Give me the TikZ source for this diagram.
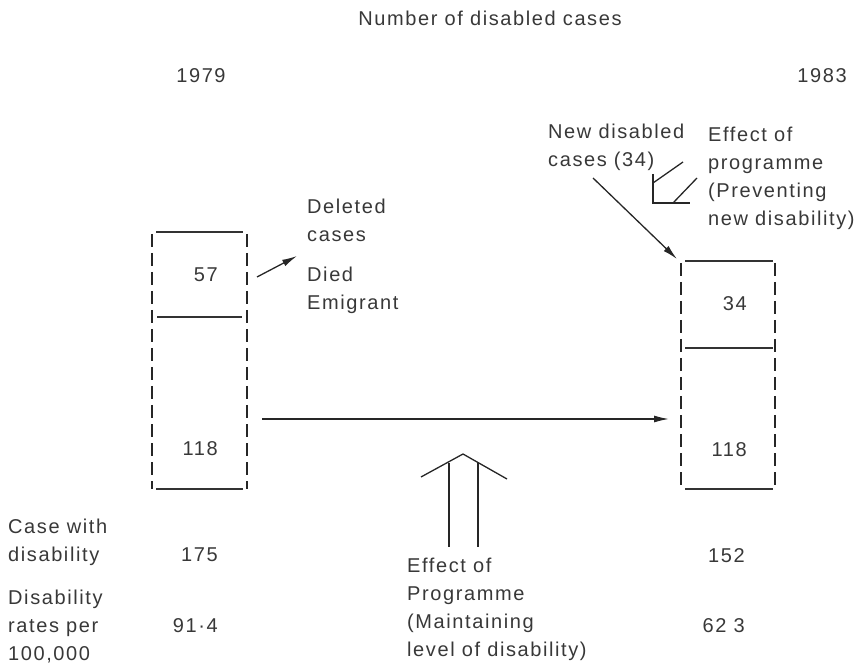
\documentclass[tikz,border=0pt]{standalone}
\usepackage{fontspec}
\setmainfont{Liberation Sans}[LetterSpace=8]
\usetikzlibrary{arrows.meta}
\begin{document}
\begin{tikzpicture}[x=1pt,y=-1pt,
  txt/.style={font=\fontsize{20}{28}\selectfont, text=black!78, inner sep=0pt, align=left, anchor=base west},
  num/.style={font=\fontsize{20}{28}\selectfont, text=black!78, inner sep=0pt, anchor=base east},
  dashside/.style={line width=2.8pt, draw=black!85, dash pattern=on 13pt off 6pt},
  hline/.style={line width=1.4pt, draw=black!80},
  arr/.style={line width=1.3pt, draw=black!85, -{Latex[length=15pt,width=7pt]}},
  sym/.style={line width=1.3pt, draw=black!85}
]
\useasboundingbox (0,0) rectangle (868,668);

% titles
\node[txt, anchor=base] (title) at (490,26) {Number of disabled cases};
\node[txt, anchor=base] (y79) at (201,83) {1979};
\node[txt, anchor=base] (y83) at (822,83) {1983};

% left box (1979)
\draw[dashside] (152,234) -- (152,489);
\draw[dashside] (247,234) -- (247,489);
\draw[hline] (156,232) -- (243,232);
\draw[hline] (157,317) -- (242,317);
\draw[hline] (156,489) -- (243,489);
\node[num] (n57) at (218,282) {57};
\node[num] (n118a) at (218,455) {118};

% right box (1983)
\draw[dashside] (681,263) -- (681,489);
\draw[dashside] (775,263) -- (775,489);
\draw[hline] (685,261) -- (773,261);
\draw[hline] (685,348) -- (773,348);
\draw[hline] (685,489) -- (773,489);
\node[num] (n34) at (747,311) {34};
\node[num] (n118b) at (747,456) {118};

% deleted cases
\node[txt] (del) at (307,242) {Deleted\\cases};
\node[txt] (died) at (307,310) {Died\\Emigrant};
\coordinate (delS) at (257,277);
\coordinate (delE) at (297,256);
\draw[arr] (delS) -- (delE);

% maintained arrow
\coordinate (mS) at (262,419);
\coordinate (mE) at (669,419);
\draw[arr] (mS) -- (mE);

% new disabled cases
\node[txt] (new) at (548,167) {New disabled\\cases (34)};
\coordinate (nS) at (593,178);
\coordinate (nE) at (677,259);
\draw[arr] (nS) -- (nE);

% preventing symbol
\node[txt] (prev) at (708,226) {Effect of\\programme\\(Preventing\\new disability)};
\coordinate (pc) at (653,203);
\coordinate (pt) at (653,174);
\coordinate (pr) at (690,203);
\draw[sym] (pt) -- (pc) -- (pr);
\draw[sym] (653,183) -- (683,162);
\draw[sym] (673,203) -- (697,178);

% maintaining symbol
\coordinate (ma) at (463,454);
\draw[sym] (421,477) -- (ma) -- (507,479);
\draw[sym] (449,463) -- (449,547);
\draw[sym] (478,463) -- (478,547);
\node[txt] (maint) at (407,656) {Effect of\\Programme\\(Maintaining\\level of disability)};

% bottom rows
\node[txt] (cwd) at (8,561) {Case with\\disability};
\node[num] (v175) at (218,561) {175};
\node[num] (v152) at (745,562) {152};
\node[txt] (dr) at (8,660) {Disability\\rates per\\100,000};
\node[num] (v914) at (218,632) {91·4};
\node[num] (v623) at (745,632) {62 3};
\end{tikzpicture}
\end{document}
